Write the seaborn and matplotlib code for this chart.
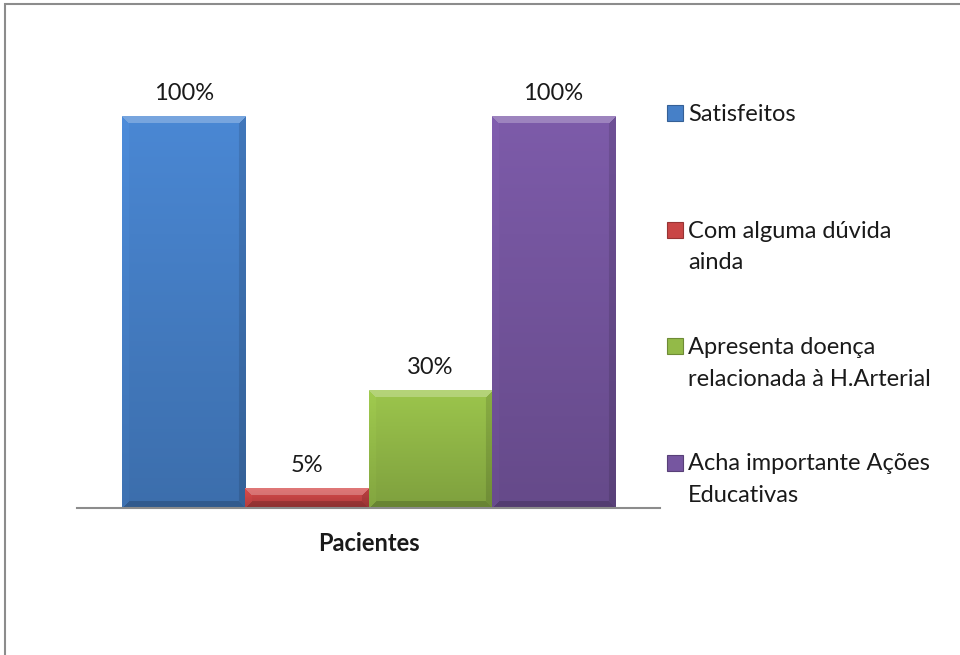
import numpy as np
import pandas as pd
import matplotlib
matplotlib.use('Agg')
import matplotlib.pyplot as plt
import matplotlib.colors as mcolors
from matplotlib.patches import Rectangle
import seaborn as sns

# ── Data ───────────────────────────────────────────────────────────────
CATEGORY = 'Pacientes'
SERIES = ['Satisfeitos',
          'Com alguma dúvida ainda',
          'Apresenta doença relacionada à H.Arterial',
          'Acha importante Ações Educativas']
LEGEND_LABELS = ['Satisfeitos',
                 'Com alguma dúvida\nainda',
                 'Apresenta doença\nrelacionada à H.Arterial',
                 'Acha importante Ações\nEducativas']
VALUES = [100, 5, 30, 100]
COLORS = ['#4680C8', '#C94545', '#93BA48', '#7656A0']

df = pd.DataFrame({'grupo': [CATEGORY] * len(SERIES), 'serie': SERIES, 'pct': VALUES})

# ── Figure ─────────────────────────────────────────────────────────────
sns.set_theme(style='white')
plt.rcParams['font.family'] = ['Lato', 'DejaVu Sans']

W, H = 960, 655
fig = plt.figure(figsize=(W / 100, H / 100), dpi=100)
ax = fig.add_axes([77 / W, (H - 508) / H, (660 - 77) / W, (508 - 116) / H])

sns.barplot(data=df, x='grupo', y='pct', hue='serie', hue_order=SERIES,
            palette=COLORS, width=0.844, saturation=1, legend=False, ax=ax)
ax.set_xlim(-0.5, 0.5)
ax.set_ylim(0, 100)


def bevel_image(base, nw, nh, band=7):
    rgb = np.array(mcolors.to_rgb(base))
    r = np.arange(nh)[:, None] * np.ones((1, nw))
    c = np.ones((nh, 1)) * np.arange(nw)[None, :]
    shade = 1.06 - 0.2 * (r / max(nh - 1, 1))
    img = rgb[None, None, :] * shade[..., None]
    d = np.stack([r, c, nw - 1 - c, nh - 1 - r])
    side = d.argmin(axis=0)
    near = d.min(axis=0) < band
    top = near & (side == 0)
    img[top] = img[top] * 0.75 + 0.25
    img[near & (side == 1)] *= 1.03
    img[near & (side == 2)] *= 0.88
    img[near & (side == 3)] *= 0.82
    return np.clip(img, 0, 1)


# gradient / bevel fill on each bar
for patch, base in zip(list(ax.patches), COLORS):
    x0, y0 = patch.get_x(), patch.get_y()
    w, h = patch.get_width(), patch.get_height()
    (px0, py0), (px1, py1) = ax.transData.transform([(x0, y0), (x0 + w, y0 + h)])
    nw, nh = max(int(round(px1 - px0)), 2), max(int(round(py1 - py0)), 2)
    ax.imshow(bevel_image(base, nw, nh), extent=(x0, x0 + w, y0, y0 + h),
              aspect='auto', origin='upper', interpolation='bilinear',
              zorder=patch.get_zorder() + 0.1)
ax.set_xlim(-0.5, 0.5)
ax.set_ylim(0, 100)

for container, v in zip(ax.containers, VALUES):
    ax.bar_label(container, labels=[f'{v}%'], padding=9, fontsize=17, color='#1a1a1a')

ax.set_xlabel('')
ax.set_ylabel('')
ax.set_yticks([])
ax.set_xticks([0])
ax.set_xticklabels([CATEGORY], fontsize=17, fontweight='bold', color='#1a1a1a')
ax.tick_params(axis='x', length=0, pad=17)
for s in ['top', 'left', 'right']:
    ax.spines[s].set_visible(False)
ax.spines['bottom'].set_color('#8c8c8c')
ax.spines['bottom'].set_linewidth(1.5)

# ── Legend (drawn by hand so markers line up with first text line) ────
for i, (label, color) in enumerate(zip(LEGEND_LABELS, COLORS)):
    yc = 113 + i * 116.5
    fig.add_artist(Rectangle((667 / W, (H - yc - 8) / H), 16 / W, 16 / H,
                             transform=fig.transFigure, facecolor=color,
                             edgecolor=mcolors.to_hex(np.array(mcolors.to_rgb(color)) * 0.75),
                             lw=0.8))
    fig.text(688 / W, (H - yc + 9) / H, label, fontsize=17, color='#1a1a1a',
             ha='left', va='top', linespacing=1.62)

# chart frame
fig.add_artist(Rectangle((5 / W, -0.1), 1.2, 1.1 - 4 / H, transform=fig.transFigure,
                         fill=False, edgecolor='#8c8c8c', lw=1.5, clip_on=False))

fig.savefig('out.png', dpi=100)
